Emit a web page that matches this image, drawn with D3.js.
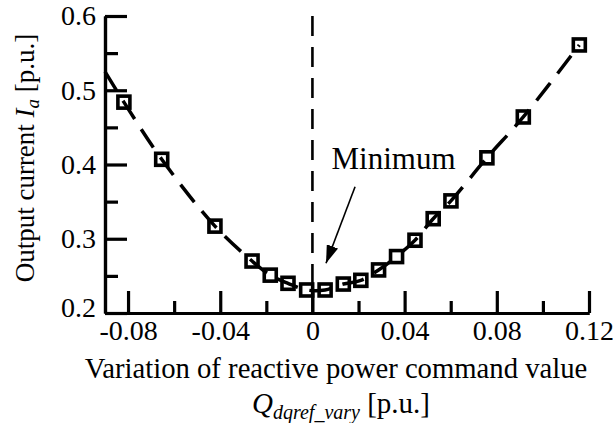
<!DOCTYPE html>
<meta charset="utf-8">
<script src="https://d3js.org/d3.v7.min.js"></script>
<style type="text/css">
body { margin: 0; background: #fff; }
svg text { font-family: "Liberation Serif", "Times New Roman", serif; fill: #000; }
.eixo path, .eixo line { stroke: #000; stroke-width: 3.2; }
.curva { fill: none; stroke: #000; stroke-width: 3.5; stroke-dasharray: 22, 12; }
.zero { fill: none; stroke: #000; stroke-width: 2.6; stroke-dasharray: 20, 11; }
.quadrado { fill: none; stroke: #000; stroke-width: 3.6; }
</style>
<body>
<div id="canvas"></div>
<script>
// dados
var qVary = [-0.0818, -0.0654, -0.0423, -0.0262, -0.0183, -0.0106, -0.0025, 0.0055, 0.0134, 0.0210,
             0.0287, 0.0365, 0.0445, 0.0524, 0.0601, 0.0757, 0.0915, 0.1158];
var corrente = [0.484, 0.407, 0.317, 0.270, 0.251, 0.240, 0.231, 0.231, 0.239, 0.244,
                0.258, 0.276, 0.298, 0.327, 0.351, 0.409, 0.464, 0.561];
// a linha tracejada comeca no eixo y
var curvaInicio = [-0.09, 0.525];

var xTicks = [-0.08, -0.04, 0, 0.04, 0.08, 0.12];
var xMinor = [-0.06, -0.02, 0.02, 0.06, 0.10];
var yTicks = [0.2, 0.3, 0.4, 0.5, 0.6];
var yMinor = [0.25, 0.35, 0.45, 0.55];

// anotacao "Minimum": texto, inicio e ponta da seta (unidades do grafico)
var anotTexto = [0.0083, 0.394];
var setaInicio = [0.0185, 0.370];
var setaPonta = [0.0059, 0.267];

var fonte = '"Liberation Serif", "Times New Roman", serif';
var width = 613;
var height = 423;

var svg = d3.select('#canvas')
    .append("svg")
    .attr("width", width)
    .attr("height", height);

var x = d3.scaleLinear().domain([-0.09, 0.12]).range([105, 589]);
var y = d3.scaleLinear().domain([0.2, 0.6]).range([313, 16]);

var fmt = function(d) { return d === 0 ? "0" : (d < 0 ? "-" : "") + Math.abs(d).toFixed(2); };

// eixo X ----------------------------------------------------------
svg.append("g")
    .attr("class", "eixo")
    .attr("transform", "translate(0," + y(0.2) + ")")
    .call(d3.axisBottom(x).tickValues(xMinor).tickSizeInner(-12).tickSizeOuter(0).tickFormat(""));
var gx = svg.append("g")
    .attr("class", "eixo")
    .attr("transform", "translate(0," + y(0.2) + ")")
    .call(d3.axisBottom(x).tickValues(xTicks).tickSizeInner(-22).tickSizeOuter(0)
        .tickPadding(7).tickFormat(fmt))
    .attr("font-family", fonte)
    .attr("font-size", 28);

// eixo Y ----------------------------------------------------------
svg.append("g")
    .attr("class", "eixo")
    .attr("transform", "translate(" + x(-0.09) + ",0)")
    .call(d3.axisLeft(y).tickValues(yMinor).tickSizeInner(-13).tickSizeOuter(0).tickFormat(""));
var gy = svg.append("g")
    .attr("class", "eixo")
    .attr("transform", "translate(" + x(-0.09) + ",0)")
    .call(d3.axisLeft(y).tickValues(yTicks).tickSizeInner(-22).tickSizeOuter(0)
        .tickPadding(9).tickFormat(d3.format(".1f")))
    .attr("font-family", fonte)
    .attr("font-size", 28);
gy.selectAll(".tick").filter(function(d) { return d === 0.2; })
    .select("text").attr("dy", "0.12em");

// linha vertical em zero
svg.append("line")
    .attr("class", "zero")
    .attr("x1", x(0)).attr("x2", x(0))
    .attr("y1", y(0.6)).attr("y2", y(0.2));

// curva tracejada --------------------------------------------------
var pontos = qVary.map(function(q, i) { return [q, corrente[i]]; });
var line = d3.line()
    .x(function(d) { return x(d[0]); })
    .y(function(d) { return y(d[1]); })
    .curve(d3.curveCatmullRom);
svg.append("path")
    .attr("class", "curva")
    .attr("d", line([curvaInicio].concat(pontos)));

// quadrados
var lado = 12;
svg.selectAll(".quadrado")
    .data(pontos)
    .enter()
    .append("rect")
    .attr("class", "quadrado")
    .attr("x", function(d) { return x(d[0]) - lado / 2; })
    .attr("y", function(d) { return y(d[1]) - lado / 2; })
    .attr("width", lado)
    .attr("height", lado);

// anotacao Minimum -------------------------------------------------
svg.append("defs").append("marker")
    .attr("id", "seta")
    .attr("viewBox", "0 0 18 12")
    .attr("refX", 18).attr("refY", 6)
    .attr("markerWidth", 18).attr("markerHeight", 12)
    .attr("markerUnits", "userSpaceOnUse")
    .attr("orient", "auto")
    .append("path")
    .attr("d", "M0,0 L18,6 L0,12 Z")
    .attr("fill", "#000");

svg.append("line")
    .attr("x1", x(setaInicio[0])).attr("y1", y(setaInicio[1]))
    .attr("x2", x(setaPonta[0])).attr("y2", y(setaPonta[1]))
    .attr("stroke", "#000").attr("stroke-width", 1.6)
    .attr("marker-end", "url(#seta)");

svg.append("text")
    .attr("x", x(anotTexto[0])).attr("y", y(anotTexto[1]))
    .style("font-size", "31px")
    .text("Minimum");

// titulos dos eixos ------------------------------------------------
var ty = svg.append("text")
    .attr("transform", "translate(34,158) rotate(-90)")
    .attr("text-anchor", "middle")
    .style("font-size", "27px");
ty.append("tspan").text("Output current ");
ty.append("tspan").style("font-style", "italic").text("I");
ty.append("tspan").style("font-style", "italic").style("font-size", "19px").attr("dy", 5).text("a");
ty.append("tspan").attr("dy", -5).text(" [p.u.]");

svg.append("text")
    .attr("x", 336).attr("y", 378)
    .attr("text-anchor", "middle")
    .style("font-size", "28.7px")
    .text("Variation of reactive power command value");

var tx = svg.append("text")
    .attr("x", 341).attr("y", 413)
    .attr("text-anchor", "middle")
    .style("font-size", "29px");
tx.append("tspan").style("font-style", "italic").text("Q");
tx.append("tspan").style("font-style", "italic").style("font-size", "20px").attr("dy", 6).text("dqref_vary");
tx.append("tspan").attr("dy", -6).text(" [p.u.]");
</script>
</body>
